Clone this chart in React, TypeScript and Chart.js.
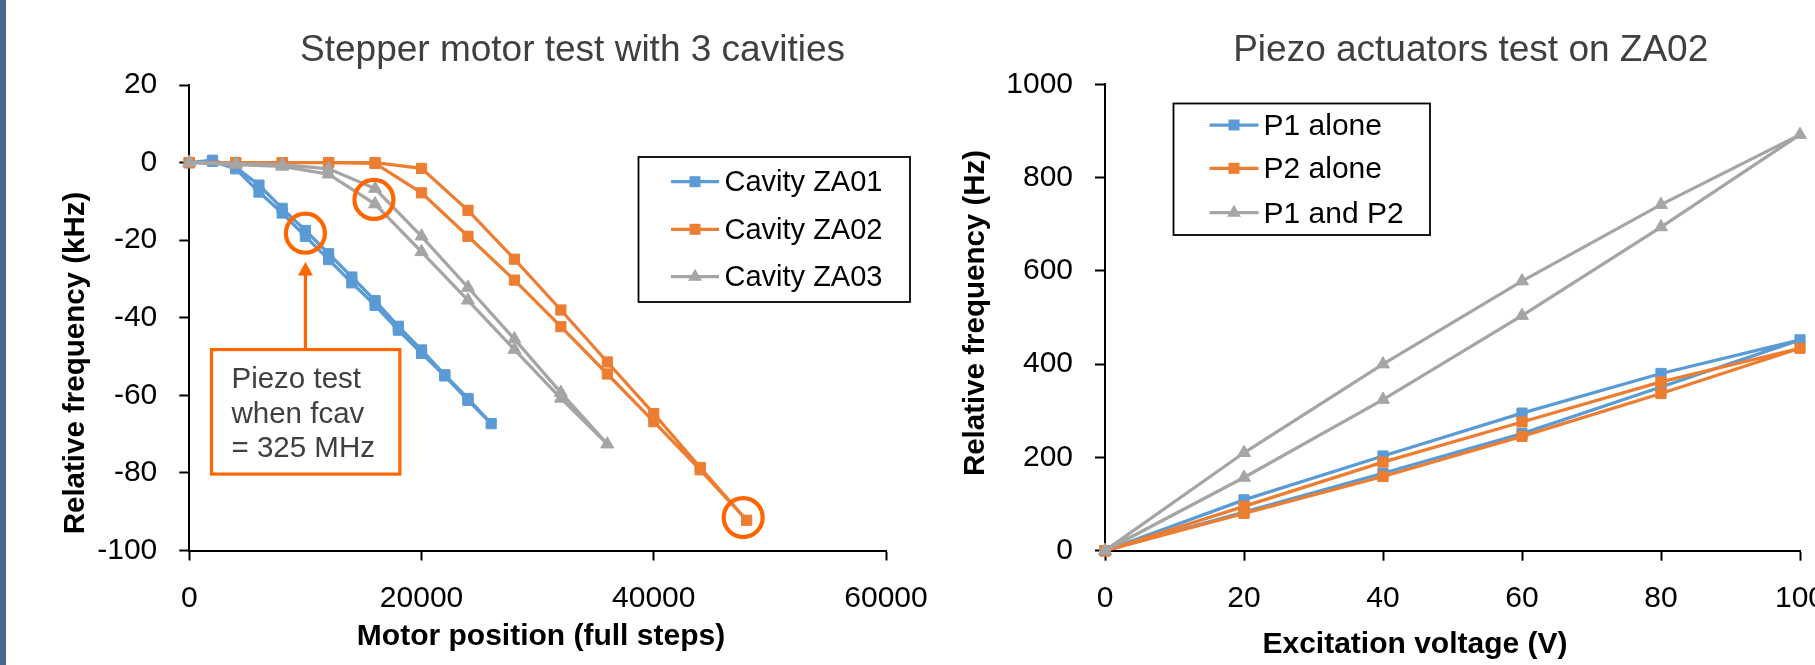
import React, { useEffect, useRef } from "react";
import { Chart, registerables } from "chart.js";

Chart.register(...registerables);

const BLUE = "#5B9BD5";
const ORANGE = "#ED7D31";
const GRAY = "#A5A5A5";
const ANNOT = "#FF6600";
const FONT = "'Liberation Sans', Arial, sans-serif";

// ---------- Left chart data: Stepper motor test ----------
const leftTitle = "Stepper motor test with 3 cavities";
const leftXTitle = "Motor position (full steps)";
const leftYTitle = "Relative frequency (kHz)";
const leftSeriesNames = ["Cavity ZA01", "Cavity ZA02", "Cavity ZA03"];

const za01X = [0, 2000, 4000, 6000, 8000, 10000, 12000, 14000, 16000, 18000, 20000, 22000, 24000, 26000, 24000, 22000, 20000, 18000, 16000, 14000, 12000, 10000, 8000, 6000, 4000, 2000, 0];
const za01Y = [0, 0.6, -1.2, -5.8, -11.8, -17.5, -23.5, -29.5, -35.6, -42.2, -48.3, -54.7, -60.8, -67.3, -61.3, -55.0, -49.2, -43.2, -36.8, -31.0, -25.0, -19.0, -13.0, -7.6, -1.6, 0.3, 0];

const za02X = [0, 4000, 8000, 12000, 16000, 20000, 24000, 28000, 32000, 36000, 40000, 44000, 48000, 44000, 40000, 36000, 32000, 28000, 24000, 20000, 16000, 12000, 8000, 4000, 0];
const za02Y = [0, 0, 0, 0, 0, -1.5, -12.3, -24.9, -38.0, -51.4, -64.7, -78.6, -92.2, -79.2, -66.8, -54.5, -42.3, -30.3, -19.0, -7.8, -0.2, 0, 0, 0, 0];

const za03X = [0, 4000, 8000, 12000, 16000, 20000, 24000, 28000, 32000, 36000, 32000, 28000, 24000, 20000, 16000, 12000, 8000, 4000, 0];
const za03Y = [0, -0.3, -0.5, -1.6, -6.7, -19.0, -32.2, -45.5, -59.3, -72.6, -60.8, -48.2, -35.5, -23.0, -10.7, -3.0, -1.0, -0.5, 0];

const leftXTicks = { min: 0, max: 60000, step: 20000 };
const leftYTicks = { min: -100, max: 20, step: 20 };

// annotation (data coordinates)
const annotCircles = [
  [10000, -18.2],
  [15900, -9.5],
  [47700, -91.5],
];
const annotLines = ["Piezo test", "when fcav", "= 325 MHz"];
const annotBox = { x1: 1910, x2: 18133, y1: -48.2, y2: -80.3 };
const annotArrow = { x: 10000, tipY: -25.6, baseY: -29.0 };

// ---------- Right chart data: Piezo actuators test ----------
const rightTitle = "Piezo actuators test on ZA02";
const rightXTitle = "Excitation voltage (V)";
const rightYTitle = "Relative frequency (Hz)";
const rightSeriesNames = ["P1 alone", "P2 alone", "P1 and P2"];

const voltageX = [0, 20, 40, 60, 80, 100, 80, 60, 40, 20, 0];
const p1Y = [0, 83, 166, 251, 351, 452, 380, 295, 203, 109, 0];
const p2Y = [0, 80, 159, 245, 337, 434, 362, 276, 190, 95, 0];
const p12Y = [0, 157, 324, 504, 694, 892, 742, 578, 400, 210, 0];

const rightXTicks = { min: 0, max: 100, step: 20 };
const rightYTicks = { min: 0, max: 1000, step: 200 };

// ---------- helpers ----------
const toPts = (xs: number[], ys: number[]) => xs.map((x, i) => ({ x, y: ys[i] }));

function makeDataset(label: string, xs: number[], ys: number[], color: string, style: string, order: number) {
  return {
    label,
    data: toPts(xs, ys),
    showLine: true,
    borderColor: color,
    backgroundColor: color,
    borderWidth: 3.25,
    pointStyle: style,
    pointRadius: style === "triangle" ? 7.5 : 7.2,
    pointBorderWidth: 1,
    pointBackgroundColor: color,
    pointBorderColor: color,
    tension: 0,
    clip: false as any,
    order,
  };
}

function makeAxis(t: { min: number; max: number; step: number }, fontSize: number, padding: number, isX: boolean, size: number) {
  return {
    type: "linear" as const,
    min: t.min,
    max: t.max,
    afterFit: (s: any) => {
      if (isX) {
        s.height = size;
        s.paddingLeft = 0;
        s.paddingRight = 0;
      } else {
        s.width = size;
        s.paddingTop = 0;
        s.paddingBottom = 0;
      }
    },
    ticks: {
      stepSize: t.step,
      padding,
      color: "#000",
      font: { family: FONT, size: fontSize },
      callback: (v: any) => String(v),
      maxRotation: 0,
      autoSkip: false,
    },
    grid: {
      drawOnChartArea: false,
      drawTicks: true,
      tickLength: 10,
      tickWidth: 2,
      tickColor: "#000",
    },
    border: { display: true, color: "#000", width: 2 },
  };
}

function drawText(ctx: CanvasRenderingContext2D, s: string, x: number, y: number, font: string, color: string, align: CanvasTextAlign) {
  ctx.save();
  ctx.font = font;
  ctx.fillStyle = color;
  ctx.textAlign = align;
  ctx.textBaseline = "alphabetic";
  ctx.fillText(s, x, y);
  ctx.restore();
}

function drawRotated(ctx: CanvasRenderingContext2D, s: string, x: number, y: number, font: string, color: string) {
  ctx.save();
  ctx.translate(x, y);
  ctx.rotate(-Math.PI / 2);
  ctx.font = font;
  ctx.fillStyle = color;
  ctx.textAlign = "center";
  ctx.textBaseline = "alphabetic";
  ctx.fillText(s, 0, 0);
  ctx.restore();
}

function drawMarker(ctx: CanvasRenderingContext2D, style: string, x: number, y: number, color: string) {
  ctx.save();
  ctx.fillStyle = color;
  ctx.beginPath();
  if (style === "triangle") {
    const r = 8;
    ctx.moveTo(x, y - r);
    ctx.lineTo(x + 0.866 * r, y + r / 2);
    ctx.lineTo(x - 0.866 * r, y + r / 2);
    ctx.closePath();
  } else {
    ctx.rect(x - 5.5, y - 5.5, 11, 11);
  }
  ctx.fill();
  ctx.restore();
}

type LegendSpec = {
  box: [number, number, number, number];
  lineX: [number, number];
  textX: number;
  rowsY: number[];
  baselineOffset: number;
  font: string;
  names: string[];
  colors: string[];
  styles: string[];
};

function drawLegend(ctx: CanvasRenderingContext2D, L: LegendSpec) {
  const [x1, y1, x2, y2] = L.box;
  ctx.save();
  ctx.fillStyle = "#fff";
  ctx.fillRect(x1, y1, x2 - x1, y2 - y1);
  ctx.strokeStyle = "#000";
  ctx.lineWidth = 1.8;
  ctx.strokeRect(x1, y1, x2 - x1, y2 - y1);
  L.names.forEach((n, i) => {
    const y = L.rowsY[i];
    ctx.strokeStyle = L.colors[i];
    ctx.lineWidth = 3.25;
    ctx.beginPath();
    ctx.moveTo(L.lineX[0], y);
    ctx.lineTo(L.lineX[1], y);
    ctx.stroke();
    drawMarker(ctx, L.styles[i], (L.lineX[0] + L.lineX[1]) / 2, y, L.colors[i]);
    drawText(ctx, n, L.textX, y + L.baselineOffset, L.font, "#000", "left");
  });
  ctx.restore();
}

const leftDecor = {
  id: "leftDecor",
  afterDraw(chart: any) {
    const ctx: CanvasRenderingContext2D = chart.ctx;
    const xs = chart.scales.x;
    const ys = chart.scales.y;
    const px = (v: number) => xs.getPixelForValue(v);
    const py = (v: number) => ys.getPixelForValue(v);

    drawText(ctx, leftTitle, 572.5, 61, `37px ${FONT}`, "#404040", "center");
    drawText(ctx, leftXTitle, 541, 645, `bold 30px ${FONT}`, "#000", "center");
    drawRotated(ctx, leftYTitle, 83.5, 363, `bold 29.5px ${FONT}`, "#000");

    drawLegend(ctx, {
      box: [638.5, 157, 910, 302],
      lineX: [671, 719],
      textX: 724.5,
      rowsY: [181.7, 229.3, 276.7],
      baselineOffset: 9.5,
      font: `29px ${FONT}`,
      names: leftSeriesNames,
      colors: [BLUE, ORANGE, GRAY],
      styles: ["rect", "rect", "triangle"],
    });

    // annotation box
    ctx.save();
    const bx1 = px(annotBox.x1), bx2 = px(annotBox.x2);
    const by1 = py(annotBox.y1), by2 = py(annotBox.y2);
    ctx.fillStyle = "#fff";
    ctx.fillRect(bx1, by1, bx2 - bx1, by2 - by1);
    ctx.strokeStyle = ANNOT;
    ctx.lineWidth = 3.2;
    ctx.strokeRect(bx1, by1, bx2 - bx1, by2 - by1);
    annotLines.forEach((s, i) => {
      drawText(ctx, s, bx1 + 20, by1 + 38.5 + i * 34.7, `29.5px ${FONT}`, "#404040", "left");
    });
    // arrow
    const ax = px(annotArrow.x);
    const tip = py(annotArrow.tipY);
    const base = py(annotArrow.baseY);
    ctx.strokeStyle = ANNOT;
    ctx.lineWidth = 3.2;
    ctx.beginPath();
    ctx.moveTo(ax, by1);
    ctx.lineTo(ax, base);
    ctx.stroke();
    ctx.fillStyle = ANNOT;
    ctx.beginPath();
    ctx.moveTo(ax, tip);
    ctx.lineTo(ax + 7.5, base + 0.5);
    ctx.lineTo(ax - 7.5, base + 0.5);
    ctx.closePath();
    ctx.fill();
    // circles
    ctx.lineWidth = 4.2;
    annotCircles.forEach(([cx, cy]) => {
      ctx.beginPath();
      ctx.arc(px(cx), py(cy), 19.5, 0, Math.PI * 2);
      ctx.stroke();
    });
    ctx.restore();
  },
};

const rightDecor = {
  id: "rightDecor",
  afterDraw(chart: any) {
    const ctx: CanvasRenderingContext2D = chart.ctx;
    drawText(ctx, rightTitle, 1470.7, 61, `37px ${FONT}`, "#404040", "center");
    drawText(ctx, rightXTitle, 1415, 653, `bold 30px ${FONT}`, "#000", "center");
    drawRotated(ctx, rightYTitle, 984, 313, `bold 29.5px ${FONT}`, "#000");
    drawLegend(ctx, {
      box: [1173.5, 103.5, 1430, 235],
      lineX: [1209.5, 1258.5],
      textX: 1263.5,
      rowsY: [125, 168.3, 212.7],
      baselineOffset: 10,
      font: `30px ${FONT}`,
      names: rightSeriesNames,
      colors: [BLUE, ORANGE, GRAY],
      styles: ["rect", "rect", "triangle"],
    });
  },
};

function LeftChart() {
  const ref = useRef<HTMLCanvasElement>(null);
  useEffect(() => {
    if (!ref.current) return;
    const chart = new Chart(ref.current, {
      type: "scatter",
      data: {
        datasets: [
          makeDataset(leftSeriesNames[0], za01X, za01Y, BLUE, "rect", 2),
          makeDataset(leftSeriesNames[1], za02X, za02Y, ORANGE, "rect", 1),
          makeDataset(leftSeriesNames[2], za03X, za03Y, GRAY, "triangle", 0),
        ] as any,
      },
      options: {
        responsive: false,
        animation: false,
        devicePixelRatio: 1,
        layout: { padding: { left: 89.3, right: 929, top: 85, bottom: 54.5 } },
        plugins: { legend: { display: false }, tooltip: { enabled: false }, title: { display: false } },
        scales: {
          x: makeAxis(leftXTicks, 30, 20, true, 60) as any,
          y: makeAxis(leftYTicks, 30, 22, false, 100) as any,
        },
      },
      plugins: [leftDecor],
    });
    return () => chart.destroy();
  }, []);
  return <canvas ref={ref} width={1815} height={665} style={{ position: "absolute", left: 0, top: 0 }} />;
}

function RightChart() {
  const ref = useRef<HTMLCanvasElement>(null);
  useEffect(() => {
    if (!ref.current) return;
    const chart = new Chart(ref.current, {
      type: "scatter",
      data: {
        datasets: [
          makeDataset(rightSeriesNames[0], voltageX, p1Y, BLUE, "rect", 2),
          makeDataset(rightSeriesNames[1], voltageX, p2Y, ORANGE, "rect", 1),
          makeDataset(rightSeriesNames[2], voltageX, p12Y, GRAY, "triangle", 0),
        ] as any,
      },
      options: {
        responsive: false,
        animation: false,
        devicePixelRatio: 1,
        layout: { padding: { left: 1005, right: 40, top: 84.3, bottom: 54.3 } },
        plugins: { legend: { display: false }, tooltip: { enabled: false }, title: { display: false } },
        scales: {
          x: makeAxis(rightXTicks, 30, 20, true, 60) as any,
          y: makeAxis(rightYTicks, 30, 22, false, 100) as any,
        },
      },
      plugins: [rightDecor],
    });
    return () => chart.destroy();
  }, []);
  return <canvas ref={ref} width={1840} height={665} style={{ position: "absolute", left: 0, top: 0 }} />;
}

export default function App() {
  return (
    <div
      style={{
        position: "fixed",
        left: 0,
        top: 0,
        width: 1815,
        height: 665,
        overflow: "hidden",
        background: "#ffffff",
      }}
    >
      <RightChart />
      <LeftChart />
      <div style={{ position: "absolute", left: 0, top: 0, width: 6, height: 665, background: "#48688F" }} />
    </div>
  );
}
